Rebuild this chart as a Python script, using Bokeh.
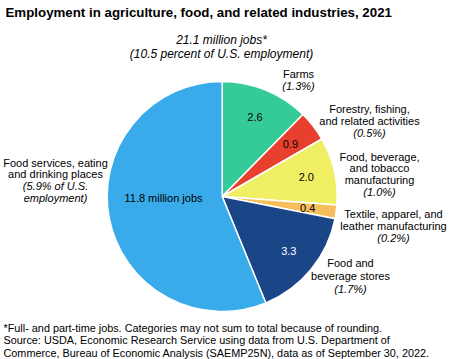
import math
from bokeh.plotting import figure
from bokeh.models import Range1d, ColumnDataSource
from bokeh.core.properties import value
from bokeh.embed import file_html
from bokeh.resources import INLINE

# ---------------- data ----------------
categories = ["Farms",
              "Forestry, fishing, and related activities",
              "Food, beverage, and tobacco manufacturing",
              "Textile, apparel, and leather manufacturing",
              "Food and beverage stores",
              "Food services, eating and drinking places"]
jobs_millions = [2.6, 0.9, 2.0, 0.4, 3.3, 11.8]
share_pct = [1.3, 0.5, 1.0, 0.2, 1.7, 5.9]
value_labels = ["2.6", "0.9", "2.0", "0.4", "3.3", "11.8 million jobs"]
total_jobs = 21.1
total_share = 10.5
title_text = "Employment in agriculture, food, and related industries, 2021"
footer_lines = [
    "*Full- and part-time jobs. Categories may not sum to total because of rounding.",
    "Source: USDA, Economic Research Service using data from U.S. Department of",
    "Commerce, Bureau of Economic Analysis (SAEMP25N), data as of September 30, 2022.",
]

# ---------------- styling / layout ----------------
colors = ["#34CB98", "#E8402F", "#F0EF64", "#F9BE5C", "#1A4688", "#3AABEA"]
value_colors = ["#000000"] * 4 + ["#FFFFFF", "#000000"]
name_lines = [["Farms"],
              ["Forestry, fishing,", "and related activities"],
              ["Food, beverage,", "and tobacco", "manufacturing"],
              ["Textile, apparel, and", "leather manufacturing"],
              ["Food and", "beverage stores"],
              ["Food services, eating", "and drinking places"]]
# label anchor (screen x center, screen y of first line), line spacing
label_anchor = [(298, 73, 12), (369, 108, 12), (379, 156, 11.8),
                (393, 213, 12), (350, 262, 13), (55, 162, 11.7)]

W, H = 450, 359


def S(sx, sy):
    """picture pixel -> data coordinates"""
    return sx, H - sy


p = figure(width=W, height=H, output_backend="svg", toolbar_location=None,
           x_range=Range1d(0, W), y_range=Range1d(0, H),
           min_border=0, outline_line_color=None)
p.axis.visible = False
p.grid.visible = False
p.xaxis.visible = False
p.yaxis.visible = False

cx, cy = S(221.7, 196)
R = 115
tot = sum(jobs_millions)
starts, ends, mids = [], [], []
c = 0.0
for v in jobs_millions:
    a0 = math.pi / 2 - c / tot * 2 * math.pi
    c += v
    a1 = math.pi / 2 - c / tot * 2 * math.pi
    starts.append(a0)
    ends.append(a1)
    mids.append((a0 + a1) / 2)

src = ColumnDataSource(dict(start=starts, end=ends, color=colors,
                            x=[cx] * len(colors), y=[cy] * len(colors)))
p.wedge(x="x", y="y", radius=R, start_angle="start", end_angle="end",
        direction="clock", fill_color="color", line_color="white",
        line_width=1.5, source=src)

FONT = value("Liberation Sans")

# value labels inside slices
vx, vy = [], []
for i, m in enumerate(mids):
    if i == len(mids) - 1:
        x, y = S(163, 197)
    else:
        x, y = cx + 0.75 * R * math.cos(m), cy + 0.75 * R * math.sin(m)
    vx.append(x)
    vy.append(y)
p.text(x=vx, y=vy, text=value_labels, text_color=value_colors,
       text_font=FONT, text_font_size="11px", text_align="center",
       text_baseline="middle")

# outer labels
for i in range(len(categories)):
    ax, ay, sp = label_anchor[i]
    lines = list(name_lines[i])
    if i == len(categories) - 1:
        italic = ["(%.1f%% of U.S." % share_pct[i], "employment)"]
    else:
        italic = ["(%.1f%%)" % share_pct[i]]
    xs, ys, ts = [], [], []
    for j, t in enumerate(lines + italic):
        x, y = S(ax, ay + j * sp)
        xs.append(x); ys.append(y); ts.append(t)
    n = len(lines)
    p.text(x=xs[:n], y=ys[:n], text=ts[:n], text_font=FONT, text_font_size="11px",
           text_align="center", text_baseline="middle", text_color="#000000")
    p.text(x=xs[n:], y=ys[n:], text=ts[n:], text_font=FONT, text_font_size="11px",
           text_font_style="italic", text_align="center", text_baseline="middle",
           text_color="#000000")

# subtitle
sx0, sy0 = S(221, 39)
sx1, sy1 = S(221, 53)
p.text(x=[sx0, sx1], y=[sy0, sy1],
       text=["%.1f million jobs*" % total_jobs,
             "(%.1f percent of U.S. employment)" % total_share],
       text_font=FONT, text_font_size="12px", text_font_style="italic",
       text_align="center", text_baseline="middle", text_color="#000000")

# title
tx, ty = S(5, 12)
p.text(x=[tx], y=[ty], text=[title_text], text_font=FONT, text_font_size="13.3px",
       text_font_style="bold", text_align="left", text_baseline="middle",
       text_color="#000000")

# footer
fx, fy = [], []
for j in range(len(footer_lines)):
    x, y = S(3, 327 + j * 12.5)
    fx.append(x); fy.append(y)
p.text(x=fx, y=fy, text=footer_lines, text_font=FONT, text_font_size="10.85px",
       text_align="left", text_baseline="middle", text_color="#000000")

open("out.html", "w").write(file_html(p, INLINE))
